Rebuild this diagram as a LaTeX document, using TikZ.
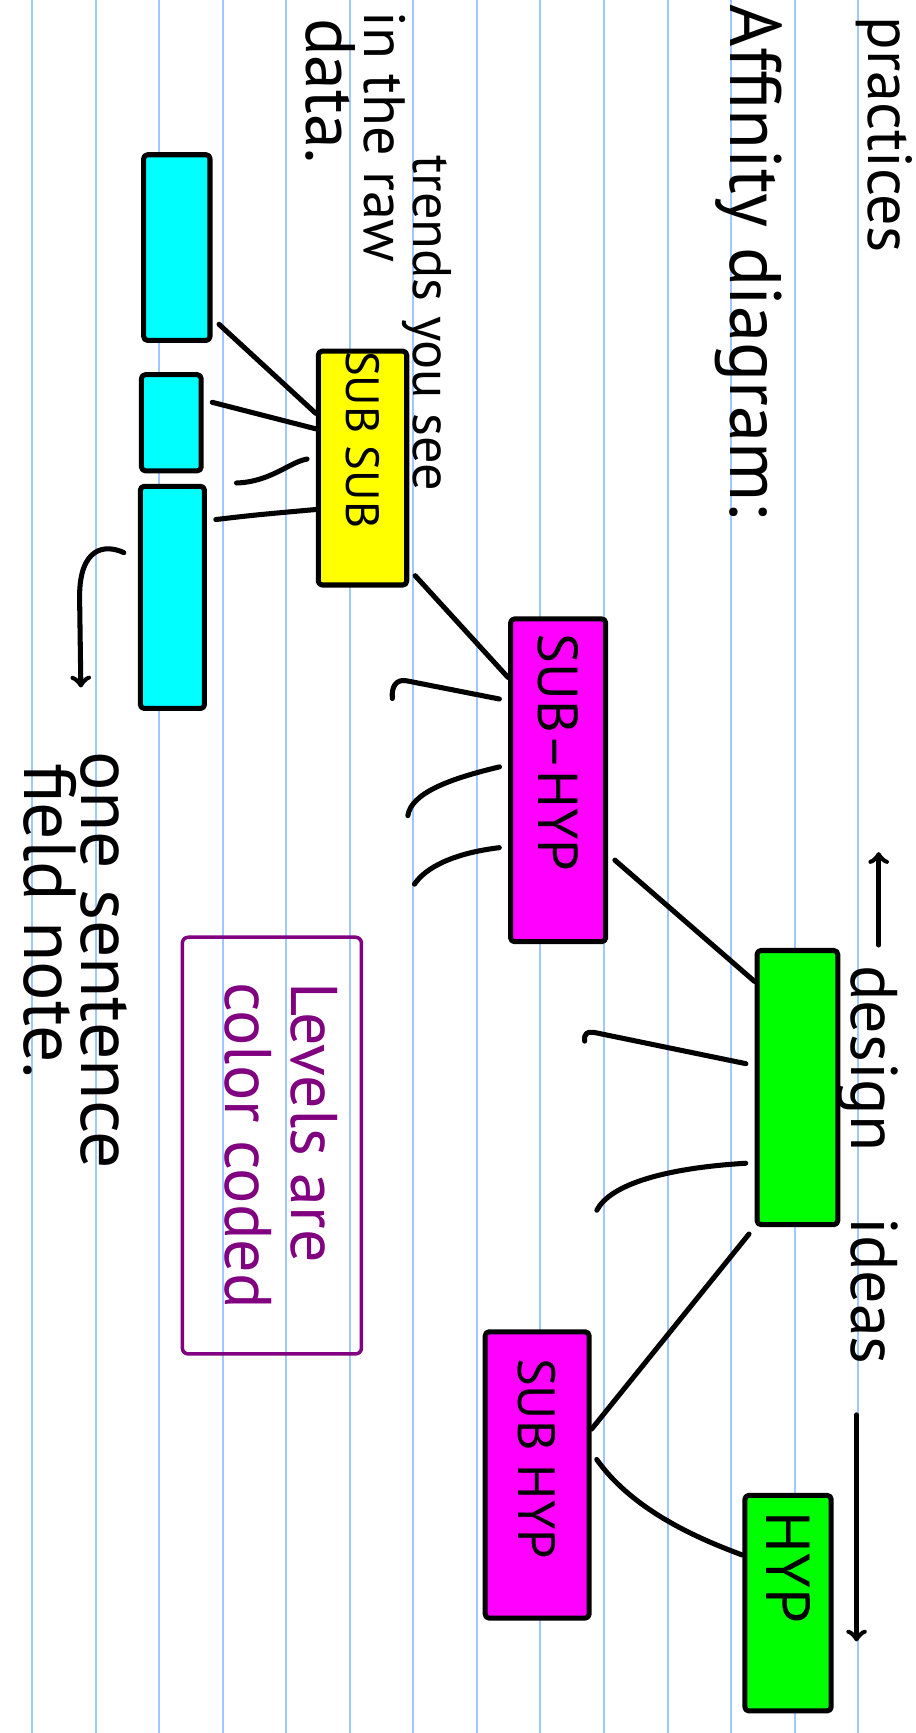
\documentclass[tikz,border=0pt]{standalone}
\usepackage{fontspec}
\setmainfont{PT Sans}
\usetikzlibrary{fit}

\definecolor{ruleblue}{RGB}{160,200,255}
\definecolor{hlcyan}{RGB}{0,255,255}
\definecolor{hlyellow}{RGB}{255,255,0}
\definecolor{hlmagenta}{RGB}{255,0,255}
\definecolor{hlgreen}{RGB}{0,255,0}
\definecolor{keypurple}{RGB}{128,0,128}

\begin{document}
\begin{tikzpicture}[x=0.02cm, y=-0.02cm,
            pen/.style={line width=2.6pt, line cap=round, line join=round},
            hlbox/.style={pen, draw, fill=#1, inner sep=0pt, rounded corners=2pt},
            hand/.style={font=\fontsize{#1}{#1}\selectfont, rotate=-90,
                         anchor=base west, inner sep=0pt},
            boxtext/.style={font=\fontsize{#1}{#1}\selectfont},
            link/.style={pen, shorten <=0.16cm},
            arr/.style={pen, ->}]

        \useasboundingbox (0,0) rectangle (828,1568);
        \clip (0,0) rectangle (828,1568);
        \fill[white] (0,0) rectangle (828,1568);

        % ruled paper
        \foreach \i in {0,...,13}
            \draw[ruleblue, line width=1pt] ({29+57.5*\i},0) -- ({29+57.5*\i},1568);

        % handwritten notes
        \node[hand=32] (prac)   at (786,15)   {practices};
        \node[hand=37.5] (title) at (661,4)   {Affinity diagram:};
        \node[hand=28] (trends) at (374,140)  {trends you see};
        \node[hand=30] (raw)    at (330,10)   {in the raw};
        \node[hand=36] (data)   at (277,16)   {data.};
        \node[hand=38] (note1)  at (74,680)   {one sentence};
        \node[hand=38] (note2)  at (22,690)   {field note.};
        \node[hand=34] (design) at (770,873)  {design\quad ideas};

        % colour coded boxes
        \node[hlbox=hlcyan, fit={(130,140) (190,308)}] (c1) {};
        \node[hlbox=hlcyan, fit={(128,339) (182,426)}] (c2) {};
        \node[hlbox=hlcyan, fit={(127,440) (185,641)}] (c3) {};
        \node[hlbox=hlyellow, fit={(288,322) (368,525)}, boxtext=24] (ss)
            {\rotatebox{-90}{SUB SUB\hspace{1.2cm}}};
        \node[hlbox=hlmagenta, fit={(462,560) (548,852)}, boxtext=29] (sh1)
            {\rotatebox{-90}{SUB--HYP\hspace{1cm}}};
        \node[hlbox=hlgreen, fit={(685,860) (758,1108)}] (root) {};
        \node[hlbox=hlmagenta, fit={(439,1205) (533,1464)}, boxtext=27] (sh2)
            {\rotatebox{-90}{SUB HYP\hspace{0.6cm}}};
        \node[hlbox=hlgreen, fit={(674,1353) (752,1548)}, boxtext=32] (hyp)
            {\rotatebox{-90}{HYP\hspace{1.3cm}}};

        \node[draw=keypurple, line width=1.8pt, rounded corners=3pt, inner sep=0pt,
              text=keypurple, font=\fontsize{34}{33.5}\selectfont,
              fit={(165,848) (327,1225)}] (key)
            {\rotatebox{-90}{\begin{tabular}{@{}l@{}}Levels are\\color coded\end{tabular}}};

        % raw data to sub sub
        \draw[link] (c1.east |- 0,288) -- (ss.west |- 0,374);
        \draw[link] (c2.east |- 0,362) -- (ss.west |- 0,388);
        \draw[link] (ss.west |- 0,414) .. controls (262,418) and (245,436) .. (214,437);
        \draw[link] (c3.east |- 0,471) .. controls (230,466) .. (ss.west |- 0,461);
        \draw[arr, shorten <=0.28cm, shorten >=1.16cm]
            (c3.west |- 0,506) .. controls (95,492) and (72,495) .. (72,540) -- (note1.base west);

        % sub sub to sub-hyp
        \draw[link] (ss.east |- 0,515) -- (sh1.west |- 0,613);
        \draw[link] (sh1.west |- 0,634) -- (368,616) .. controls (358,614) and (354,622) .. (355,632);
        \draw[link] (sh1.west |- 0,692) .. controls (405,705) and (372,718) .. (369,738);
        \draw[link] (sh1.west |- 0,766) .. controls (410,772) and (385,785) .. (375,800);

        % sub-hyp up to the design ideas
        \draw[link] (sh1.east |- 0,773) -- (root.west |- 0,888);
        \draw[link] (root.west |- 0,964) -- (537,934) .. controls (531,933) and (528,936) .. (529,942);
        \draw[link] (root.west |- 0,1052) .. controls (600,1057) and (552,1072) .. (540,1095);
        \draw[link] (root.south west) -- (sh2.east |- 0,1293);
        \draw[link] (sh2.east |- 0,1314) .. controls (575,1370) and (640,1395) .. (hyp.west |- 0,1407);

        % direction of the design ideas
        \draw[arr] (795,0 |- design.west) ++(0,-18) -- ++(0,-84);
        \draw[arr] (775,0 |- design.east) ++(0,45) -- ++(0,205);

\end{tikzpicture}
\end{document}
